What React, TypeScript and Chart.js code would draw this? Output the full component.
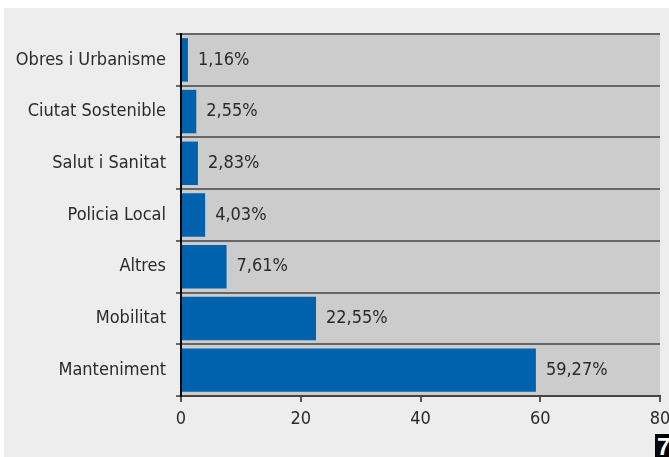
import React, { useEffect, useRef } from "react";
import { Chart, registerables } from "chart.js";

Chart.register(...registerables);

const categories = [
  "Obres i Urbanisme",
  "Ciutat Sostenible",
  "Salut i Sanitat",
  "Policia Local",
  "Altres",
  "Mobilitat",
  "Manteniment",
];
const values = [1.16, 2.55, 2.83, 4.03, 7.61, 22.55, 59.27];
const valueLabels = ["1,16%", "2,55%", "2,83%", "4,03%", "7,61%", "22,55%", "59,27%"];
const xTicks = [0, 20, 40, 60, 80];

const FONT = '"DejaVu Sans Condensed", "Liberation Sans", sans-serif';

const plotBg = {
  id: "plotBg",
  beforeDraw(chart: any) {
    const { ctx, chartArea } = chart;
    ctx.save();
    ctx.fillStyle = "#cccccc";
    ctx.fillRect(chartArea.left, chartArea.top, chartArea.right - chartArea.left, chartArea.bottom - chartArea.top);
    ctx.restore();
  },
};

const valueLabelPlugin = {
  id: "valueLabels",
  afterDatasetsDraw(chart: any) {
    const { ctx } = chart;
    const meta = chart.getDatasetMeta(0);
    ctx.save();
    ctx.font = `18px ${FONT}`;
    ctx.fillStyle = "#2a2a2a";
    ctx.textAlign = "left";
    ctx.textBaseline = "middle";
    meta.data.forEach((el: any, i: number) => {
      ctx.fillText(valueLabels[i], el.x + 10, el.y);
    });
    ctx.restore();
  },
};

export default function App() {
  const ref = useRef<HTMLCanvasElement | null>(null);
  useEffect(() => {
    if (!ref.current) return;
    const chart = new Chart(ref.current, {
      type: "bar",
      data: {
        labels: categories,
        datasets: [
          {
            data: values,
            backgroundColor: "#0061ad",
            borderWidth: 0,
            barPercentage: 0.84,
            categoryPercentage: 1,
          },
        ],
      },
      options: {
        indexAxis: "y",
        animation: false,
        responsive: false,
        maintainAspectRatio: false,
        layout: { padding: { top: 26, right: 24, left: 0, bottom: 0 } },
        plugins: { legend: { display: false }, tooltip: { enabled: false } },
        scales: {
          x: {
            min: 0,
            max: 80,
            afterBuildTicks(scale: any) {
              scale.ticks = xTicks.map((v) => ({ value: v }));
            },
            afterFit(scale: any) {
              scale.height = 61;
            },
            grid: {
              drawOnChartArea: false,
              drawTicks: true,
              tickLength: 6,
              color: "#555555",
              lineWidth: 2,
            },
            border: { display: true, color: "#444444", width: 2 },
            ticks: {
              color: "#2a2a2a",
              font: { family: FONT, size: 18 },
              padding: 7,
              maxRotation: 0,
            },
          },
          y: {
            afterFit(scale: any) {
              scale.width = 177;
            },
            grid: {
              offset: true,
              drawOnChartArea: true,
              drawTicks: true,
              tickLength: 5,
              color: "#666666",
              lineWidth: 2,
            },
            border: { display: true, color: "#000000", width: 2 },
            ticks: {
              color: "#2a2a2a",
              font: { family: FONT, size: 18 },
              padding: 10,
            },
          },
        },
      },
      plugins: [plotBg, valueLabelPlugin],
    });
    return () => chart.destroy();
  }, []);

  return (
    <div style={{ position: "fixed", left: 0, top: 0, width: 669, height: 457, background: "#ffffff", overflow: "hidden" }}>
      <div style={{ position: "absolute", left: 4, top: 8, width: 665, height: 449, background: "#ecedec", overflow: "hidden" }}>
        <canvas ref={ref} width={680} height={449} style={{ display: "block", width: 680, height: 449 }} />
      </div>
      <div
        style={{
          position: "absolute",
          left: 655,
          top: 434,
          width: 14,
          height: 23,
          background: "#000000",
          overflow: "hidden",
          color: "#ffffff",
          fontFamily: "Liberation Sans, sans-serif",
          fontWeight: "bold",
          fontSize: 24,
          lineHeight: "26px",
          paddingLeft: 2,
          boxSizing: "border-box",
        }}
      >
        7
      </div>
    </div>
  );
}
